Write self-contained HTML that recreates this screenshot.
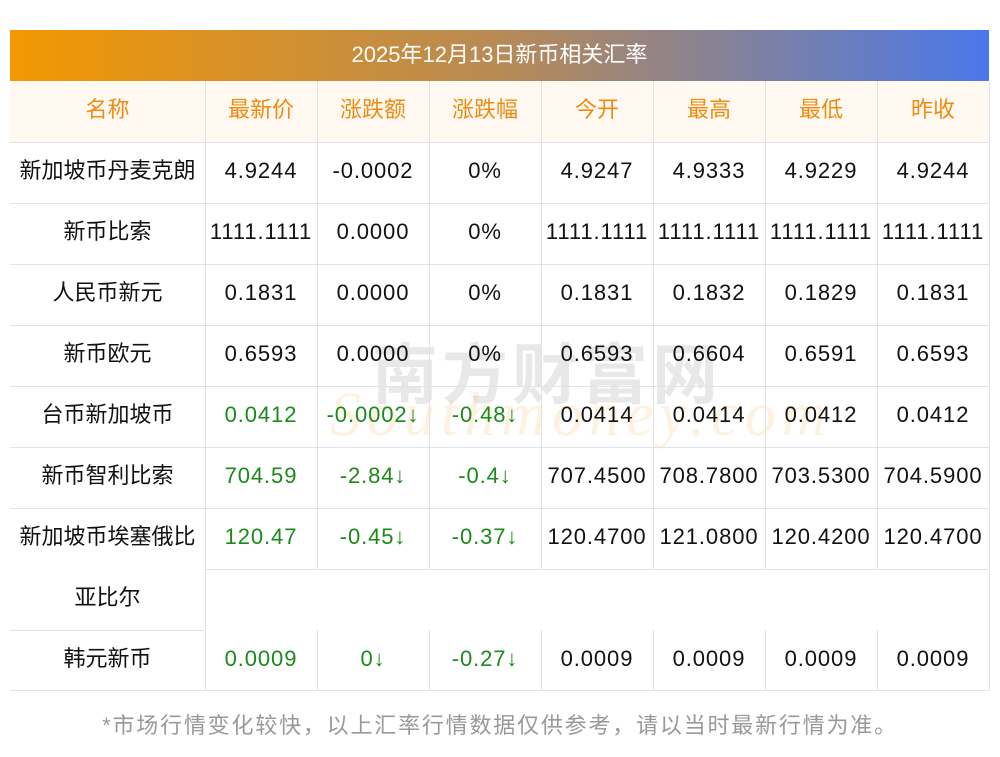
<!DOCTYPE html>
<html><head><meta charset="utf-8"><style>
body{margin:0;width:1000px;height:757px;background:#fff;position:relative;overflow:hidden;font-family:"Liberation Sans","Noto Sans CJK SC",sans-serif}
.bar{position:absolute;left:10px;top:30px;width:979px;height:51px;background:linear-gradient(90deg,#f39800,#b88a55 50%,#4a78ea);color:#fff;font-size:22px;text-align:center;line-height:49px}
.hd{position:absolute;left:10px;top:81px;width:979px;height:61px;background:#fff9f2}
.h{position:absolute;background:#e2e2ea;height:1px}
.v{position:absolute;background:#e2e2ea;width:1px}
.c{position:absolute;height:61px;line-height:57px;text-align:center;font-size:22px;color:#111;white-space:nowrap}
.n{letter-spacing:0.9px}
.o{color:#f08a10}.g{color:#1a8a1a}
.wm{position:absolute;font-size:66px;color:rgba(150,150,150,0.22);font-weight:bold;left:372px;top:322px;letter-spacing:4px}
.wm2{position:absolute;font-size:62px;color:rgba(250,200,130,0.25);font-style:italic;font-family:"Liberation Serif",serif;left:330px;top:380px;letter-spacing:6px}
.foot{position:absolute;left:0;width:1000px;top:708px;text-align:center;font-size:22px;color:#999;letter-spacing:1.8px}
</style></head><body>
<div class="bar">2025年12月13日新币相关汇率</div>
<div class="hd"></div>
<div class="wm">南方财富网</div>
<div class="wm2">Southmoney.com</div>
<div id="g"></div>
<div class="foot">*市场行情变化较快，以上汇率行情数据仅供参考，请以当时最新行情为准。</div>
<script>
var xs=[10,205,317,429,541,653,765,877,989];
var rows=[
["名称","最新价","涨跌额","涨跌幅","今开","最高","最低","昨收"],
["新加坡币丹麦克朗","4.9244","-0.0002","0%","4.9247","4.9333","4.9229","4.9244"],
["新币比索","1111.1111","0.0000","0%","1111.1111","1111.1111","1111.1111","1111.1111"],
["人民币新元","0.1831","0.0000","0%","0.1831","0.1832","0.1829","0.1831"],
["新币欧元","0.6593","0.0000","0%","0.6593","0.6604","0.6591","0.6593"],
["台币新加坡币","0.0412","-0.0002↓","-0.48↓","0.0414","0.0414","0.0412","0.0412"],
["新币智利比索","704.59","-2.84↓","-0.4↓","707.4500","708.7800","703.5300","704.5900"],
["新加坡币埃塞俄比","120.47","-0.45↓","-0.37↓","120.4700","121.0800","120.4200","120.4700"],
["亚比尔","","","","","","",""],
["韩元新币","0.0009","0↓","-0.27↓","0.0009","0.0009","0.0009","0.0009"]];
var tops=[81,142,203,264,325,386,447,508,569,630];
var h='';
rows.forEach(function(r,i){r.forEach(function(t,j){if(!t)return;var cls='c';if(i==0)cls+=' o';else{if(j>=1&&j<=3&&i>=5)cls+=' g';if(j>=1)cls+=' n';}
h+='<div class="'+cls+'" style="left:'+xs[j]+'px;width:'+(xs[j+1]-xs[j])+'px;top:'+tops[i]+'px">'+t+'</div>';});});
[142,203,264,325,386,447,508].forEach(function(y){h+='<div class="h" style="left:10px;width:979px;top:'+y+'px"></div>';});
h+='<div class="h" style="left:205px;width:784px;top:569px"></div>';
h+='<div class="h" style="left:10px;width:195px;top:630px"></div>';
h+='<div class="h" style="left:10px;width:979px;top:690px"></div>';
for(var j=1;j<8;j++){h+='<div class="v" style="left:'+xs[j]+'px;top:81px;height:'+(j==1?609:488)+'px"></div>';if(j>1)h+='<div class="v" style="left:'+xs[j]+'px;top:630px;height:60px"></div>';}
h+='<div class="v" style="left:989px;top:81px;height:609px"></div>';
document.getElementById('g').innerHTML=h;
</script>
</body></html>
